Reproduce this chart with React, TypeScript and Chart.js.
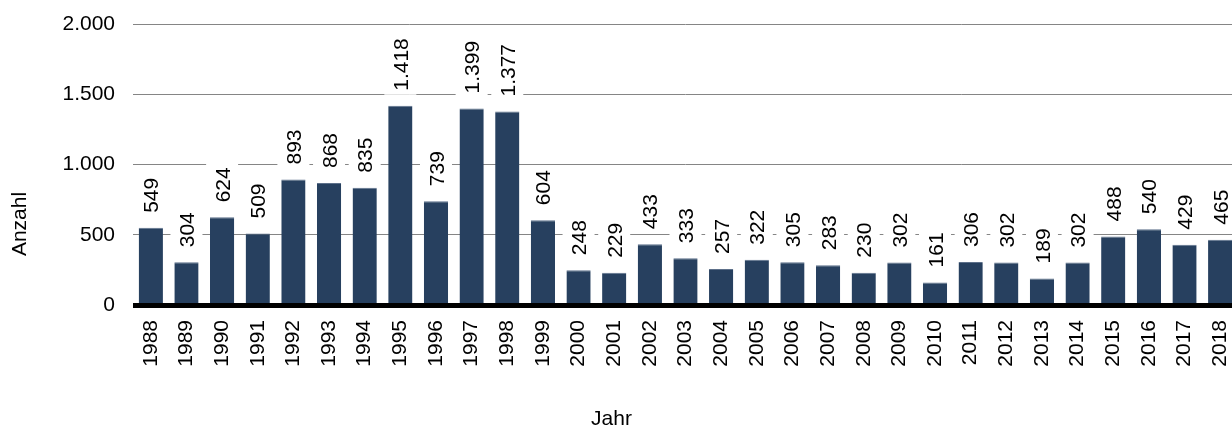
import React, { useEffect, useRef } from "react";
import { Chart, registerables } from "chart.js";

Chart.register(...registerables);

const years: string[] = [
  "1988", "1989", "1990", "1991", "1992", "1993", "1994", "1995", "1996", "1997",
  "1998", "1999", "2000", "2001", "2002", "2003", "2004", "2005", "2006", "2007",
  "2008", "2009", "2010", "2011", "2012", "2013", "2014", "2015", "2016", "2017", "2018",
];
const counts: number[] = [
  549, 304, 624, 509, 893, 868, 835, 1418, 739, 1399,
  1377, 604, 248, 229, 433, 333, 257, 322, 305, 283,
  230, 302, 161, 306, 302, 189, 302, 488, 540, 429, 465,
];
const yTicks: number[] = [0, 500, 1000, 1500, 2000];
const yTitle = "Anzahl";
const xTitle = "Jahr";

const FONT = "'Liberation Sans', Arial, sans-serif";
const FS = 21;

const fmt = (v: number) => String(Math.round(v)).replace(/\B(?=(\d{3})+(?!\d))/g, ".");

const overlay = {
  id: "overlay",
  afterDatasetsDraw(chart: any) {
    const ctx = chart.ctx;
    const area = chart.chartArea;
    const yScale = chart.scales.y;
    const y0 = yScale.getPixelForValue(0);
    ctx.save();
    ctx.strokeStyle = "#000";
    ctx.lineWidth = 5;
    ctx.beginPath();
    ctx.moveTo(area.left, y0 + 0.5);
    ctx.lineTo(area.right + 10, y0 + 0.5);
    ctx.stroke();
    ctx.restore();

    const meta = chart.getDatasetMeta(0);
    ctx.save();
    ctx.font = `${FS}px ${FONT}`;
    meta.data.forEach((bar: any, i: number) => {
      const txt = fmt(counts[i]);
      const w = ctx.measureText(txt).width;
      ctx.save();
      ctx.translate(bar.x, bar.y - 15);
      ctx.rotate(-Math.PI / 2);
      ctx.fillStyle = "#fff";
      ctx.fillRect(-4, -16, w + 8, 32);
      ctx.fillStyle = "#000";
      ctx.textAlign = "left";
      ctx.textBaseline = "alphabetic";
      ctx.fillText(txt, 0, FS * 0.36);
      ctx.restore();
    });
    ctx.restore();

    ctx.save();
    ctx.fillStyle = "#000";
    ctx.font = `${FS}px ${FONT}`;
    ctx.textAlign = "center";
    ctx.textBaseline = "middle";
    ctx.fillText(xTitle, 611.5, 419);
    ctx.translate(20, 224);
    ctx.rotate(-Math.PI / 2);
    ctx.fillText(yTitle, 0, 0);
    ctx.restore();
  },
};

export default function App() {
  const ref = useRef<HTMLCanvasElement | null>(null);
  useEffect(() => {
    if (!ref.current) return;
    const chart = new Chart(ref.current, {
      type: "bar",
      data: {
        labels: years,
        datasets: [
          {
            data: counts,
            backgroundColor: "#27405f",
            borderColor: "#5d708a",
            borderWidth: { top: 1, left: 0, right: 0, bottom: 0 } as any,
            barPercentage: 0.68,
            categoryPercentage: 1,
          },
        ],
      },
      options: {
        responsive: false,
        animation: false,
        events: [],
        layout: { padding: { top: 24, right: 2, left: 0, bottom: 0 } },
        plugins: { legend: { display: false }, tooltip: { enabled: false } },
        scales: {
          x: {
            grid: { display: false, drawTicks: false },
            border: { display: false },
            ticks: {
              autoSkip: false,
              minRotation: 90,
              maxRotation: 90,
              padding: 15,
              color: "#000",
              font: { family: FONT, size: FS },
            },
            afterFit: (s: any) => {
              s.height = 125;
              s.paddingLeft = 0;
              s.paddingRight = 0;
            },
          },
          y: {
            min: 0,
            max: 2000,
            afterBuildTicks: (s: any) => {
              s.ticks = yTicks.map((v) => ({ value: v }));
            },
            grid: {
              color: "#858585",
              lineWidth: 1,
              drawTicks: false,
            },
            border: { display: false },
            ticks: {
              padding: 18,
              color: "#000",
              font: { family: FONT, size: FS },
              callback: (v: any) => fmt(Number(v)),
            },
            afterFit: (s: any) => {
              s.width = 133;
              s.paddingTop = 0;
              s.paddingBottom = 0;
            },
          },
        },
      },
      plugins: [overlay],
    });
    return () => chart.destroy();
  }, []);
  return (
    <div
      style={{
        position: "absolute",
        left: 0,
        top: 0,
        width: 1232,
        height: 430,
        overflow: "hidden",
        background: "#fff",
      }}
    >
      <canvas ref={ref} width={1240} height={430} style={{ width: 1240, height: 430, display: "block" }} />
    </div>
  );
}
